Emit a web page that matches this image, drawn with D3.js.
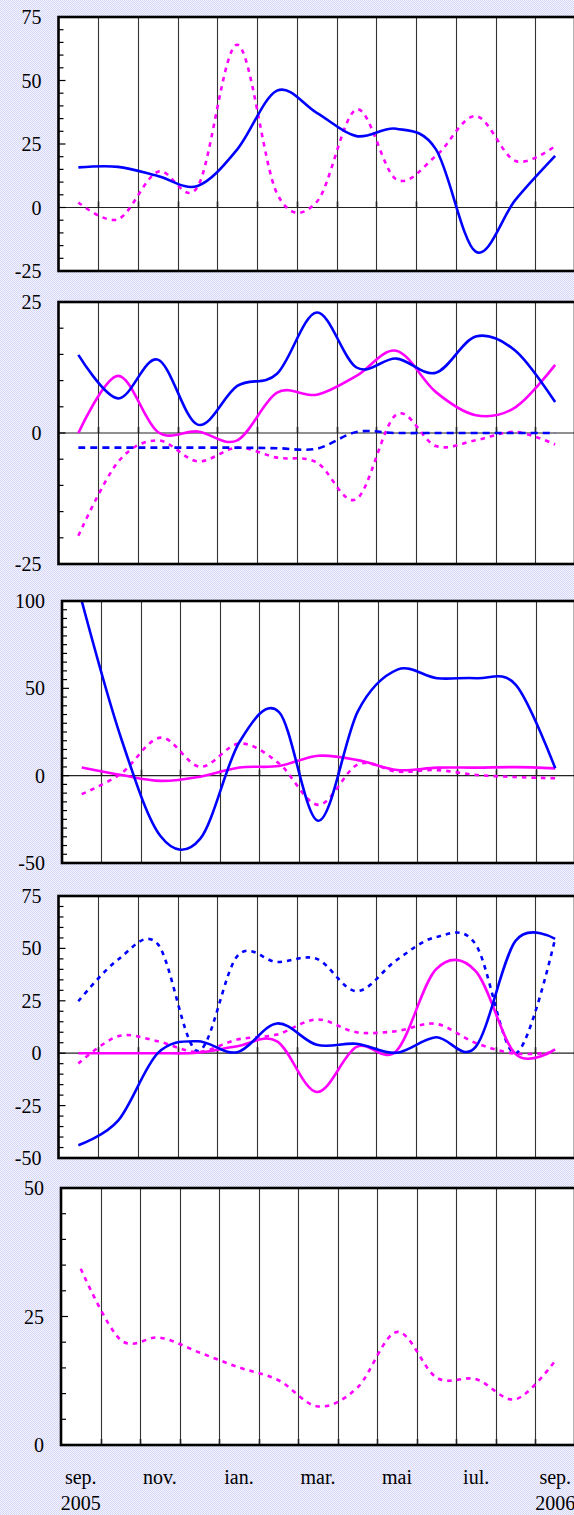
<!DOCTYPE html>
<html><head><meta charset="utf-8">
<script src="https://cdn.jsdelivr.net/npm/d3@7"></script>
<style>html,body{margin:0;padding:0;overflow:hidden;background:#fff}svg{display:block}</style>
</head><body>
<svg id="chart" width="574" height="1515"></svg>
<script>
// ---------- data ----------
const months = ["sep. 2005","oct.","nov.","dec.","ian.","feb.","mar.","apr.","mai","iun.","iul.","aug.","sep. 2006"];
const xTickMonths = [0, 2, 4, 6, 8, 10, 12];
const xTickLabels = [["sep.","2005"],["nov."],["ian."],["mar."],["mai"],["iul."],["sep.","2006"]];

// panel 1
const p1Ticks = [75, 50, 25, 0, -25];
const p1BlueSolid    = [15.8, 16, 12.4, 8.5, 22.9, 46, 37.3, 28.1, 31, 22.9, -17.4, 3, 20.3];
const p1MagentaDash  = [2, -4.6, 14.1, 8.1, 64.1, 5.5, 2.2, 38.6, 11.1, 20.3, 36, 18.3, 24.2];
// panel 2
const p2Ticks = [25, 0, -25];
const p2BlueSolid    = [14.9, 6.6, 14, 1.6, 9, 11.3, 23, 12.5, 14.2, 11.5, 18.4, 15.7, 5.9];
const p2MagentaSolid = [0, 10.9, 0.2, 0.3, -1.4, 7.7, 7.3, 10.9, 15.7, 7.8, 3.4, 4.9, 13];
const p2BlueDash     = [-2.8, -2.8, -2.8, -2.8, -2.8, -2.9, -3, 0.2, 0, 0, 0, 0, 0];
const p2MagentaDash  = [-19.6, -5.5, -1.4, -5.4, -2.8, -4.7, -5.6, -12.6, 3.5, -2.5, -1.4, 0.2, -2.2];
// panel 3
const p3Ticks = [100, 50, 0, -50];
const p3BlueSolid    = [100, 21.3, -34.7, -36.2, 19.4, 36.4, -25.8, 37, 60.7, 55.8, 55.8, 52, 4.2];
const p3MagentaSolid = [4.7, 0.4, -3, -0.6, 4.7, 5.5, 11.4, 8.9, 3.2, 4.6, 4.6, 4.9, 4.2];
const p3MagentaDash  = [-10.6, 1.3, 21.8, 5.1, 18.4, 7, -16.7, 6.5, 2.3, 3.2, 0.4, -0.8, -1.5];
// panel 4
const p4Ticks = [75, 50, 25, 0, -25, -50];
const p4BlueSolid    = [-43.9, -32.2, 0, 5.7, 0.5, 14.2, 4, 4.5, 0.2, 7.6, 3, 53.5, 54.6];
const p4BlueDash     = [24.8, 44.7, 52, 1, 46.3, 43.5, 45, 29.6, 44.3, 55.4, 51.9, 0, 54.6];
const p4MagentaSolid = [0, 0, 0, 0.2, 3.3, 5.7, -18.5, 3, 1, 40, 39.2, -0.3, 1.8];
const p4MagentaDash  = [-4.9, 8.1, 5.7, 0.6, 6.5, 8.9, 16.1, 10, 10.5, 14, 4.9, -0.2, 0.5];
// panel 5
const p5Ticks = [50, 25, 0];
const p5MagentaDash  = [34.3, 20.5, 20.9, 18, 15.1, 12.6, 7.5, 11.2, 22, 13.1, 12.8, 8.9, 16.4];

// ---------- styles / layout ----------
const BLUE = "#0000ff", MAGENTA = "#ff00ff";
const panels = [
  {top: 17,  bottom: 271,  left: 58.5, domain: [-25, 75],  ticks: p1Ticks,
   series: [{d: p1MagentaDash, c: MAGENTA, dash: "4.5,5"}, {d: p1BlueSolid, c: BLUE}]},
  {top: 302, bottom: 564,  left: 58.5, domain: [-25, 25],  ticks: p2Ticks,
   series: [{d: p2MagentaDash, c: MAGENTA, dash: "4.5,5"}, {d: p2BlueDash, c: BLUE, dash: "7,5"},
            {d: p2MagentaSolid, c: MAGENTA}, {d: p2BlueSolid, c: BLUE}]},
  {top: 601, bottom: 863,  left: 62,   domain: [-50, 100], ticks: p3Ticks,
   series: [{d: p3MagentaDash, c: MAGENTA, dash: "4.5,5"}, {d: p3MagentaSolid, c: MAGENTA}, {d: p3BlueSolid, c: BLUE}]},
  {top: 896, bottom: 1158, left: 58.5, domain: [-50, 75],  ticks: p4Ticks,
   series: [{d: p4MagentaDash, c: MAGENTA, dash: "4.5,5"}, {d: p4BlueDash, c: BLUE, dash: "4.5,5"},
            {d: p4MagentaSolid, c: MAGENTA}, {d: p4BlueSolid, c: BLUE}]},
  {top: 1188, bottom: 1445, left: 61,  domain: [0, 50],    ticks: p5Ticks,
   series: [{d: p5MagentaDash, c: MAGENTA, dash: "4.5,5"}]}
];
const RIGHT = 575;
const FONT = "'Liberation Serif','Times New Roman',serif";

const svg = d3.select("#chart");
const defs = svg.append("defs");
const pat = defs.append("pattern").attr("id", "bg").attr("width", 2).attr("height", 2)
  .attr("patternUnits", "userSpaceOnUse");
pat.append("rect").attr("width", 2).attr("height", 2).attr("fill", "#f4f4fe");
pat.append("rect").attr("width", 1).attr("height", 1).attr("fill", "#d6d6f6");
pat.append("rect").attr("x", 1).attr("y", 1).attr("width", 1).attr("height", 1).attr("fill", "#d6d6f6");
svg.append("rect").attr("width", 574).attr("height", 1515).attr("fill", "url(#bg)");

let lastX = null;
panels.forEach((p, pi) => {
  const band = d3.scaleBand().domain(months).range([p.left, RIGHT]).paddingInner(0).paddingOuter(0);
  const xc = m => band(m) + band.bandwidth() / 2;
  const y = d3.scaleLinear().domain(p.domain).range([p.bottom, p.top]);
  lastX = {band, xc};
  const g = svg.append("g");
  g.append("rect").attr("x", p.left).attr("y", p.top).attr("width", RIGHT - p.left)
    .attr("height", p.bottom - p.top).attr("fill", "#fff");
  // vertical grid lines
  months.slice(1).forEach(m => {
    const x = Math.round(band(m)) + 0.5;
    g.append("line").attr("x1", x).attr("x2", x).attr("y1", p.top).attr("y2", p.bottom)
      .attr("stroke", "#333").attr("stroke-width", 1.1);
  });
  // zero line
  const base = Math.max(0, p.domain[0]);
  const y0 = y(base);
  if (p.domain[0] < 0) {
    g.append("line").attr("x1", p.left).attr("x2", RIGHT).attr("y1", y0).attr("y2", y0)
      .attr("stroke", "#222").attr("stroke-width", 1.2);
  }
  // x ticks on the zero line
  months.slice(1).forEach(m => {
    const x = Math.round(band(m)) + 0.5;
    g.append("line").attr("x1", x).attr("x2", x).attr("y1", y0).attr("y2", y0 - 6)
      .attr("stroke", "#222").attr("stroke-width", 1.6);
  });
  // minor ticks
  const minor = d3.range(p.domain[0], p.domain[1] + 0.001, 5);
  minor.forEach(v => {
    const major = p.ticks.includes(v);
    g.append("line").attr("x1", p.left).attr("x2", p.left + (major ? 7 : 5))
      .attr("y1", y(v)).attr("y2", y(v)).attr("stroke", "#000").attr("stroke-width", 1.2);
  });
  // tick labels
  p.ticks.forEach(v => {
    g.append("text").attr("x", p.left - 17).attr("y", y(v)).attr("dy", "0.35em")
      .attr("text-anchor", "end").attr("font-family", FONT).attr("font-size", 20)
      .attr("fill", "#000").text(v);
  });
  // clip
  const cid = "clip" + pi;
  defs.append("clipPath").attr("id", cid).append("rect")
    .attr("x", p.left).attr("y", p.top).attr("width", RIGHT - p.left).attr("height", p.bottom - p.top);
  const line = d3.line().x((d, i) => xc(months[i])).y(d => y(d)).curve(d3.curveCardinal.tension(0));
  const lg = g.append("g").attr("clip-path", `url(#${cid})`);
  p.series.forEach(s => {
    lg.append("path").attr("d", line(s.d)).attr("fill", "none").attr("stroke", s.c)
      .attr("stroke-width", 2.6).attr("stroke-dasharray", s.dash || null)
      .attr("stroke-linejoin", "round");
  });
  // border
  g.append("rect").attr("x", p.left).attr("y", p.top).attr("width", RIGHT - p.left)
    .attr("height", p.bottom - p.top).attr("fill", "none").attr("stroke", "#000").attr("stroke-width", 2.6);
});

// x-axis labels under the last panel
xTickMonths.forEach((mi, k) => {
  const x = lastX.xc(months[mi]);
  xTickLabels[k].forEach((t, li) => {
    svg.append("text").attr("x", x).attr("y", 1484 + li * 26).attr("text-anchor", "middle")
      .attr("font-family", FONT).attr("font-size", 20).attr("fill", "#000").text(t);
  });
});
</script>
</body></html>
